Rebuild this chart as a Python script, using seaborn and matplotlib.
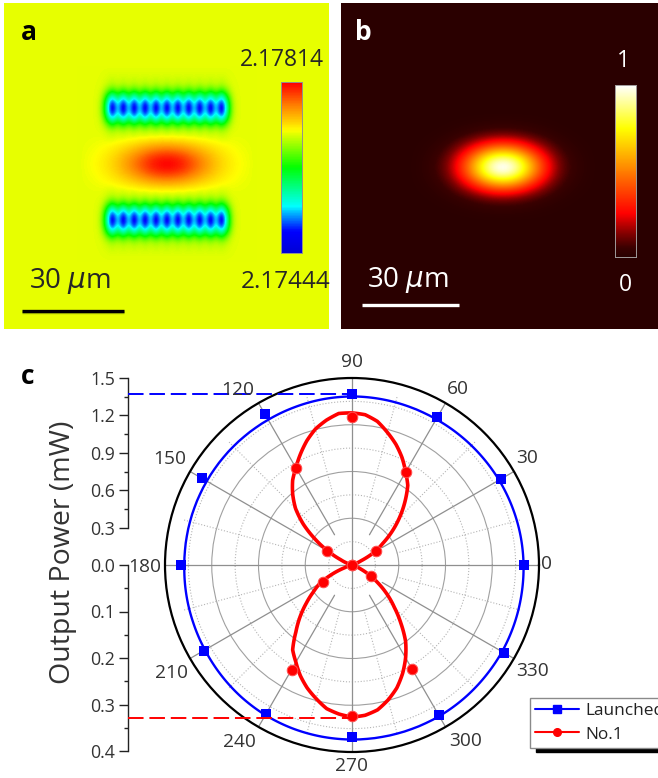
import numpy as np
import matplotlib
matplotlib.use("Agg")
import matplotlib.pyplot as plt
from matplotlib.colors import LinearSegmentedColormap
from matplotlib.lines import Line2D
import seaborn as sns

# ---------- data ----------
# Panel a: profiles across the index map (background level 0.70)
index_core_x = [0, .03, .05, .08, .12, .17, .23, .30, .39, .48, .58, .68, .78, .87, .94, .98,
                1, .98, .94, .87, .78, .68, .58, .48, .39, .30, .23, .17, .12, .08, .05, .03, 0]
index_core_y = [0, 0, 0, 0, 0, 0, 0, 0, 0, 0, .01, .03, .11, .29, .50, .74, .93, 1,
                .93, .74, .50, .29, .11, .03, .01, 0, 0, 0, 0, 0, 0, 0, 0, 0, 0]
index_ripple_x = [0, 0, 0, 0, .08, .5, 1, .55, 1, .55, 1, .55, 1, .55, 1, .55, 1, .55,
                  1, .55, 1, .55, 1, .55, 1, .55, 1, .5, .08, 0, 0, 0, 0]
index_ripple_y = [0, .015, .04, .10, .30, .62, .90, 1, .90, .62, .30, .10, .04, .015, 0, 0, 0, 0, 0, 0,
                  0, .015, .04, .10, .30, .62, .90, 1, .90, .62, .30, .10, .04, .015, 0]
# Panel b: intensity profile of the mode, centre to edge
beam_profile = [1, .96, .85, .69, .52, .36, .23, .13, .07, .036, .016, .007, 0]

# Panel c
marker_angles = [0, 30, 60, 90, 120, 150, 180, 210, 240, 270, 300, 330]
launched_points = [1.376, 1.376, 1.368, 1.368, 1.40, 1.392, 1.368, 1.372, 1.38, 1.382, 1.392, 1.408]
no1_points = [0, .22, .86, 1.19, .90, .23, 0, .27, .97, 1.21, .96, .18]
launched_angles = list(range(0, 361, 10))
launched_curve = [1.376, 1.372, 1.367, 1.362, 1.357, 1.353, 1.350, 1.350, 1.351, 1.352, 1.350, 1.347,
                  1.345, 1.345, 1.345, 1.345, 1.345, 1.345, 1.345, 1.350, 1.355, 1.362, 1.372, 1.382,
                  1.390, 1.395, 1.398, 1.400, 1.400, 1.400, 1.400, 1.397, 1.393, 1.390, 1.385, 1.380, 1.376]
no1_angles = list(range(0, 361, 5))
no1_curve = [0, 0, 0, .01, .02, .08, .21, .30, .42, .54, .66, .78, .86, .95, 1.03, 1.10, 1.17, 1.21,
             1.22, 1.22, 1.18, 1.13, 1.06, .98, .90, .83, .74, .64, .51, .36, .22, .10, .04, .02, 0, 0,
             0, 0, 0, .02, .06, .18, .30, .38, .48, .59, .70, .83, .90, .98, 1.05, 1.11, 1.17, 1.20,
             1.22, 1.21, 1.18, 1.12, 1.05, .96, .86, .75, .61, .48, .37, .26, .16, .08, .03, .01, 0, 0, 0]
launched_level = 1.37
no1_level = 0.33
upper_ticks = [0.3, 0.6, 0.9, 1.2, 1.5]
lower_ticks = [0.0, 0.1, 0.2, 0.3, 0.4]
angle_labels = ["0", "30", "60", "90", "120", "150", "180", "210", "240", "270", "300", "330"]

# ---------- style ----------
sns.set_theme(style="white")
plt.rcParams["font.family"] = ["Open Sans", "DejaVu Sans"]
plt.rcParams["mathtext.fontset"] = "dejavusans"
plt.rcParams["path.simplify"] = False
W, H = 658, 778
INK = "#262626"
fig = plt.figure(figsize=(W / 100, H / 100), dpi=100, facecolor="white")


def box(l, t, r, b):
    return [l / W, 1 - b / H, (r - l) / W, (b - t) / H]


def panel(l, t, r, b, color):
    ax = fig.add_axes(box(l, t, r, b), facecolor=color)
    ax.set_xticks([]); ax.set_yticks([])
    sns.despine(ax=ax, left=True, bottom=True)
    return ax


# ---------- panel a ----------
index_cmap = LinearSegmentedColormap.from_list("index", [
    (0, "#0000d8"), (.12, "#0000ff"), (.27, "#00ffff"), (.5, "#00ff00"),
    (.70, "#e4ff00"), (.72, "#ffff00"), (.87, "#ff8000"), (1, "#ff0000")], N=256)
BG = 0.70
core = np.outer(index_core_y, index_core_x)
ripple = np.outer(index_ripple_y, index_ripple_x)
field_a = BG + (1 - BG) * core - BG * ripple

ax_a = panel(4, 3, 329, 329, index_cmap(BG))
px, py = 5.44, 5.6
cx, cy = 166.7, 164
ax_a.imshow(field_a, cmap=index_cmap, vmin=0, vmax=1, interpolation="bicubic", aspect="auto",
            extent=(cx - 16.5 * px, cx + 16.5 * px, cy + 17.5 * py, cy - 17.5 * py))
ax_a.set_xlim(4, 329); ax_a.set_ylim(329, 3)
ax_a.text(29, 32, "a", fontsize=19, fontweight="bold", color="black", ha="center", va="center")
ax_a.text(282, 60, "2.17814", fontsize=16.5, color=INK, ha="center", va="center")
ax_a.text(285.5, 282, "2.17444", fontsize=17.5, color=INK, ha="center", va="center", clip_on=False)
ax_a.text(29, 281, "30 $\\mu$m", fontsize=20, color=INK, ha="left", va="center")
ax_a.plot([22, 124], [312, 312], color="#88a000", lw=2.5, alpha=.6, solid_capstyle="butt")
ax_a.plot([22, 124], [311, 311], color="black", lw=2.4, solid_capstyle="butt")

cb_a = fig.add_axes(box(281, 82, 302, 253))
cb_a.imshow(np.linspace(1, 0, 64)[:, None], cmap=index_cmap, vmin=0, vmax=1, aspect="auto")
cb_a.set_xticks([]); cb_a.set_yticks([])
for s in cb_a.spines.values():
    s.set_color("#909090"); s.set_linewidth(.7)

# ---------- panel b ----------
beam_cmap = LinearSegmentedColormap.from_list("beam", [
    (0, "#2a0000"), (.05, "#3a0000"), (.13, "#800000"), (.25, "#ff0000"), (.5, "#ff8000"),
    (.75, "#ffff00"), (1, "#ffffff")], N=256)
full_profile = beam_profile[::-1] + beam_profile[1:]
field_b = np.outer(full_profile, full_profile)

ax_b = panel(341, 3, 658, 329, beam_cmap(0.0))
bx, by = 8.0, 4.64
ccx, ccy = 503, 167
half = len(beam_profile) - 0.5
ax_b.imshow(field_b, cmap=beam_cmap, vmin=0, vmax=1, interpolation="bicubic", aspect="auto",
            extent=(ccx - half * bx, ccx + half * bx, ccy + half * by, ccy - half * by))
ax_b.set_xlim(341, 658); ax_b.set_ylim(329, 3)
ax_b.text(363, 32, "b", fontsize=19, fontweight="bold", color="white", ha="center", va="center")
ax_b.text(623, 61, "1", fontsize=16.5, color="white", ha="center", va="center")
ax_b.text(625, 285, "0", fontsize=16.5, color="white", ha="center", va="center")
ax_b.text(367, 280, "30 $\\mu$m", fontsize=20, color="white", ha="left", va="center")
ax_b.plot([362, 459], [305, 305], color="white", lw=2.4, solid_capstyle="butt")

cb_b = fig.add_axes(box(615, 85, 636, 257))
cb_b.imshow(np.linspace(1, 0, 128)[:, None], cmap=beam_cmap, vmin=0, vmax=1, aspect="auto")
cb_b.set_xticks([]); cb_b.set_yticks([])
for s in cb_b.spines.values():
    s.set_color("#a09a9a"); s.set_linewidth(.7)

# ---------- panel c: polar plot ----------
ax_p = fig.add_axes(box(165, 378, 539, 752), projection="polar", facecolor="white")
ax_p.set_ylim(0, 1.5)
ax_p.set_yticks([.375, .75, 1.125, 1.5])
ax_p.set_yticks([.1875, .5625, .9375, 1.3125], minor=True)
ax_p.set_yticklabels([])
ax_p.tick_params(axis="y", which="both", length=0)
ax_p.grid(False)
ax_p.yaxis.grid(True, which="major", color="#a0a0a0", lw=.8, ls="-")
ax_p.yaxis.grid(True, which="minor", color="#b5b5b5", lw=.8, ls=":")
ax_p.set_xticks(np.deg2rad(np.arange(0, 360, 30)))
ax_p.set_xticks(np.deg2rad(np.arange(15, 360, 30)), minor=True)
ax_p.set_xticklabels([])
ax_p.tick_params(axis="x", which="major", direction="in", length=4, width=1, color="black")
ax_p.tick_params(axis="x", which="minor", direction="in", length=3, width=1, color="black")
ax_p.spines["polar"].set_linewidth(1.6)
ax_p.spines["polar"].set_color("black")

for a in range(0, 360, 30):
    r0 = 0 if a % 90 == 0 else 0.28
    ax_p.plot(np.deg2rad([a, a]), [r0, 1.5], color="#8f8f8f", lw=.9, zorder=1)
for a in range(15, 360, 30):
    ax_p.plot(np.deg2rad([a, a]), [.37, 1.4], color="#b5b5b5", lw=.8, ls=":", zorder=1)

BLUE, RED = "#0000ff", "#ff0000"
n_before = len(ax_p.lines)
sns.lineplot(x=np.deg2rad(launched_angles), y=launched_curve, ax=ax_p, sort=False, estimator=None,
             color=BLUE, lw=1.7, legend=False, zorder=3)
sns.lineplot(x=np.deg2rad(no1_angles), y=no1_curve, ax=ax_p, sort=False, estimator=None,
             color=RED, lw=2.6, legend=False, zorder=3)
for line in ax_p.lines[n_before:]:
    # follow the polar arc between the read values instead of straight chords
    line.get_path()._interpolation_steps = 12
sns.scatterplot(x=np.deg2rad(marker_angles), y=launched_points, ax=ax_p, marker="s", s=56,
                color=BLUE, edgecolor=BLUE, linewidth=0, legend=False, zorder=4)
sns.scatterplot(x=np.deg2rad(marker_angles), y=no1_points, ax=ax_p, marker="o", s=58,
                color=RED, edgecolor="#ff5050", linewidth=.7, legend=False, zorder=4)
ax_p.set_xlabel(""); ax_p.set_ylabel("")
ax_p.set_ylim(0, 1.5)

label_xy = [(547, 564), (527, 458), (458, 389), (352, 362), (238, 390), (170, 459),
            (145, 567), (172, 673), (239, 742), (352, 766), (466, 741), (533, 671)]
for lab, (lx, ly) in zip(angle_labels, label_xy):
    fig.text(lx / W, 1 - ly / H, lab, fontsize=13.8, color="#333333", ha="center", va="center")

# ---------- panel c: left scales ----------
ax_up = fig.add_axes(box(127.7, 378, 352, 565), facecolor="none")
ax_up.set_xlim(0, 1); ax_up.set_ylim(0, 1.5)
ax_up.set_xticks([])
ax_up.set_yticks(upper_ticks)
ax_up.set_yticklabels([f"{v:.1f}" for v in upper_ticks])
ax_up.set_yticks(np.arange(0.45, 1.5, 0.3), minor=True)
ax_up.spines["left"].set_bounds(0.3, 1.5)
ax_up.hlines(launched_level, 0, 1, color=BLUE, lw=1.4, linestyles=(0, (8, 3)), zorder=5)

ax_lo = fig.add_axes(box(127.7, 565, 352, 751), facecolor="none")
ax_lo.set_xlim(0, 1); ax_lo.set_ylim(0.4, 0)
ax_lo.set_xticks([])
ax_lo.set_yticks(lower_ticks)
ax_lo.set_yticklabels([f"{v:.1f}" for v in lower_ticks])
ax_lo.set_yticks(np.arange(0.05, 0.4, 0.1), minor=True)
ax_lo.hlines(no1_level, 0, 1, color=RED, lw=1.4, linestyles=(0, (8, 3)), zorder=5)

for ax in (ax_up, ax_lo):
    sns.despine(ax=ax, top=True, right=True, bottom=True)
    ax.spines["left"].set_color("#222222"); ax.spines["left"].set_linewidth(1)
    ax.tick_params(axis="y", which="major", left=True, length=6.5, width=1, color="#222222",
                   labelsize=12.8, labelcolor="#333333", pad=2.5)
    ax.tick_params(axis="y", which="minor", left=True, length=3, width=1, color="#222222")

fig.text(63 / W, 1 - 552 / H, "Output Power (mW)", rotation=90, fontsize=20.5, color="#333333",
         ha="center", va="center")
fig.text(28 / W, 1 - 376 / H, "c", fontsize=19, fontweight="bold", color="black",
         ha="center", va="center")

# ---------- legend ----------
handles = [Line2D([], [], color=BLUE, lw=1.5, marker="s", ms=5.5),
           Line2D([], [], color=RED, lw=1.5, marker="o", ms=5.5)]
fig.legend(handles, ["Launched", "No.1"], loc="upper left", bbox_to_anchor=(530 / W, 1 - 698 / H),
           borderaxespad=0, fontsize=12.4, frameon=True, fancybox=False, framealpha=1,
           edgecolor="#8a8a8a", facecolor="white", handlelength=2.55, handletextpad=.35,
           labelspacing=.42, borderpad=.3, labelcolor="#222222",
           shadow={"ox": 4, "oy": -3, "color": "black", "alpha": 1})

fig.savefig("out.png", dpi=100)
